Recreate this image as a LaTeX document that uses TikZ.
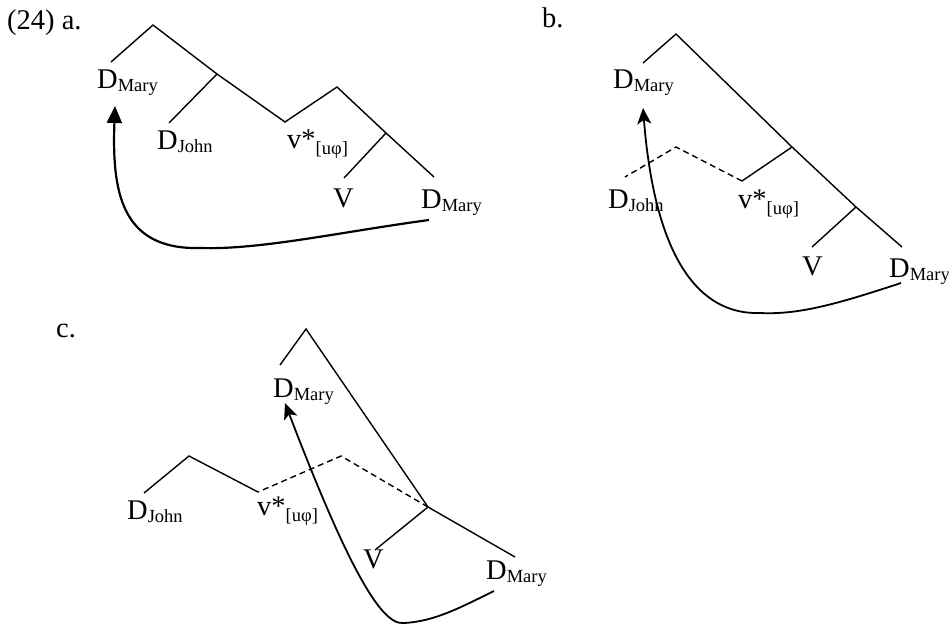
\documentclass[tikz,border=0pt]{standalone}
\usepackage{fontspec}
\setmainfont{Liberation Serif}
\usetikzlibrary{arrows.meta}
\newcommand{\subtxt}[2]{\raisebox{#1}{\fontsize{18.5}{18.5}\selectfont #2}}
\newcommand{\Dlab}[1]{D\subtxt{-3.5pt}{#1}}
\newcommand{\vlab}{v*\subtxt{-6.5pt}{[uφ]}}
\begin{document}
\begin{tikzpicture}[x=1pt,y=-1pt,
  lab/.style={anchor=base west,inner sep=0pt,font=\fontsize{28.5}{30}\selectfont},
  branch/.style={line width=1.4pt,line join=miter},
  dashbranch/.style={line width=1.4pt,dash pattern=on 6pt off 4pt},
  movea/.style={line width=2.2pt,-{Triangle[length=17pt,width=15pt]}},
  movebc/.style={line width=1.8pt,-{Stealth[length=16pt,width=14pt,inset=4pt]}}]
\useasboundingbox (0,0) rectangle (949,627);
% ---------- (a) ----------
\node[lab] (la) at (7,29) {(24) a.};
\node[lab] (aDM) at (97,88) {\Dlab{Mary}};
\node[lab] (aDJ) at (157,149) {\Dlab{John}};
\node[lab] (av) at (287,148) {\vlab};
\node[lab] (aV) at (333,207) {V};
\node[lab] (aDB) at (421,208) {\Dlab{Mary}};
\coordinate (A0) at (153,25);
\coordinate (aL) at (111,62);
\coordinate (A1) at (217,74);
\coordinate (aJ) at (169,123);
\coordinate (aV0) at (285,122);
\coordinate (A3) at (337,87);
\coordinate (A4) at (386,133);
\coordinate (aVe) at (344,178);
\coordinate (aDe) at (434,177);
\draw[branch] (aL) -- (A0) -- (A1) -- (aV0) -- (A3) -- (A4) -- (aDe);
\draw[branch] (A1) -- (aJ);
\draw[branch] (A4) -- (aVe);
\coordinate (aS) at (429,220);
\coordinate (aB) at (200,248);
\coordinate (aT) at (115,106);
\draw[movea] (aS) .. controls (340,232) and (260,250) .. (aB)
  .. controls (120,250) and (112,190) .. (aT);
% ---------- (b) ----------
\node[lab] (lb) at (542,27) {b.};
\node[lab] (bDM) at (613,88) {\Dlab{Mary}};
\node[lab] (bDJ) at (608,208) {\Dlab{John}};
\node[lab] (bv) at (738,208) {\vlab};
\node[lab] (bV) at (802,275) {V};
\node[lab] (bDB) at (889,277) {\Dlab{Mary}};
\coordinate (B0) at (676,34);
\coordinate (bL) at (643,63);
\coordinate (B1) at (792,147);
\coordinate (B2) at (856,207);
\coordinate (bDe) at (902,247);
\coordinate (bVx) at (742,181);
\coordinate (bM) at (676,147);
\coordinate (bJ) at (625,177);
\coordinate (bVe) at (812,247);
\draw[branch] (bL) -- (B0) -- (B1) -- (B2) -- (bDe);
\draw[branch] (B1) -- (bVx);
\draw[dashbranch] (bVx) -- (bM) -- (bJ);
\draw[branch] (B2) -- (bVe);
\coordinate (bS) at (901,283);
\coordinate (bB) at (760,313);
\coordinate (bT) at (643,108);
\draw[movebc] (bS) .. controls (840,303) and (800,315) .. (bB)
  .. controls (700,315) and (655,260) .. (bT);
% ---------- (c) ----------
\node[lab] (lc) at (56,337) {c.};
\node[lab] (cDM) at (273,397) {\Dlab{Mary}};
\node[lab] (cDJ) at (127,519) {\Dlab{John}};
\node[lab] (cv) at (257,515) {\vlab};
\node[lab] (cV) at (363,568) {V};
\node[lab] (cDB) at (486,579) {\Dlab{Mary}};
\coordinate (C0) at (306,329);
\coordinate (cL) at (280,365);
\coordinate (C1) at (428,507);
\coordinate (cDe) at (515,557);
\coordinate (cVe) at (375,550);
\coordinate (cM) at (341,456);
\coordinate (cVx) at (258,492);
\coordinate (cJt) at (189,456);
\coordinate (cJ) at (144,493);
\draw[branch] (cL) -- (C0) -- (C1) -- (cDe);
\draw[branch] (C1) -- (cVe);
\draw[dashbranch] (C1) -- (cM) -- (cVx);
\draw[branch] (cVx) -- (cJt) -- (cJ);
\coordinate (cS) at (494,591);
\coordinate (cB) at (403,623);
\coordinate (cT) at (285,403);
\draw[movebc] (cS) .. controls (465,605) and (435,622) .. (cB)
  .. controls (380,625) and (345,560) .. (cT);
\end{tikzpicture}
\end{document}
